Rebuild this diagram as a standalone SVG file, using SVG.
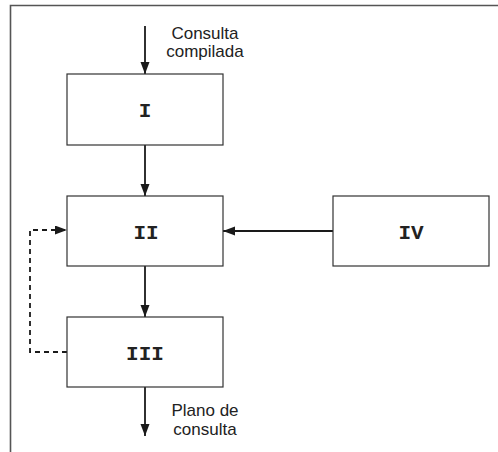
<svg xmlns="http://www.w3.org/2000/svg" width="498" height="452" viewBox="0 0 498 452">
<style>
.box{fill:#fff;stroke:#333;stroke-width:1.2}
.lbl{font-family:"Liberation Mono","Courier New",monospace;font-weight:bold;font-size:21px;fill:#222;text-anchor:middle}
.txt{font-family:"Liberation Sans",Arial,sans-serif;font-size:17px;fill:#222;text-anchor:middle}
.con{stroke:#1a1a1a;stroke-width:1.8;fill:none}
.dash{stroke-dasharray:5,4}
.frame{stroke:#555;stroke-width:1.6;fill:none}
</style>
<defs>
<marker id="ah" markerUnits="userSpaceOnUse" markerWidth="13" markerHeight="10" refX="12" refY="4.5" orient="auto">
<path d="M0,0 L12,4.5 L0,9 z" fill="#1a1a1a"/>
</marker>
</defs>
<rect width="498" height="452" fill="#fff"/>
<path class="frame" d="M10.5,452 V5.5 H498"/>
<g id="connectors">
<line class="con" x1="145" y1="26" x2="145" y2="74" marker-end="url(#ah)"/>
<line class="con" x1="145" y1="145" x2="145" y2="196" marker-end="url(#ah)"/>
<line class="con" x1="145" y1="266" x2="145" y2="317" marker-end="url(#ah)"/>
<line class="con" x1="145" y1="387" x2="145" y2="436" marker-end="url(#ah)"/>
<line class="con" x1="333" y1="231" x2="223" y2="231" marker-end="url(#ah)"/>
<path class="con dash" d="M67,352 H30 V230 H67" marker-end="url(#ah)"/>
<text class="txt" x="205" y="39">Consulta</text>
<text class="txt" x="205" y="57">compilada</text>
<text class="txt" x="205" y="416">Plano de</text>
<text class="txt" x="205" y="435">consulta</text>
</g>
<g id="nodeI">
<rect class="box" x="67" y="74" width="156" height="71"/>
<text class="lbl" x="145" y="117">I</text>
</g>
<g id="nodeII">
<rect class="box" x="67" y="196" width="156" height="70"/>
<text class="lbl" x="146" y="239">II</text>
</g>
<g id="nodeIII">
<rect class="box" x="67" y="317" width="156" height="70"/>
<text class="lbl" x="145" y="360">III</text>
</g>
<g id="nodeIV">
<rect class="box" x="333" y="196" width="156" height="70"/>
<text class="lbl" x="411" y="239">IV</text>
</g>
</svg>
